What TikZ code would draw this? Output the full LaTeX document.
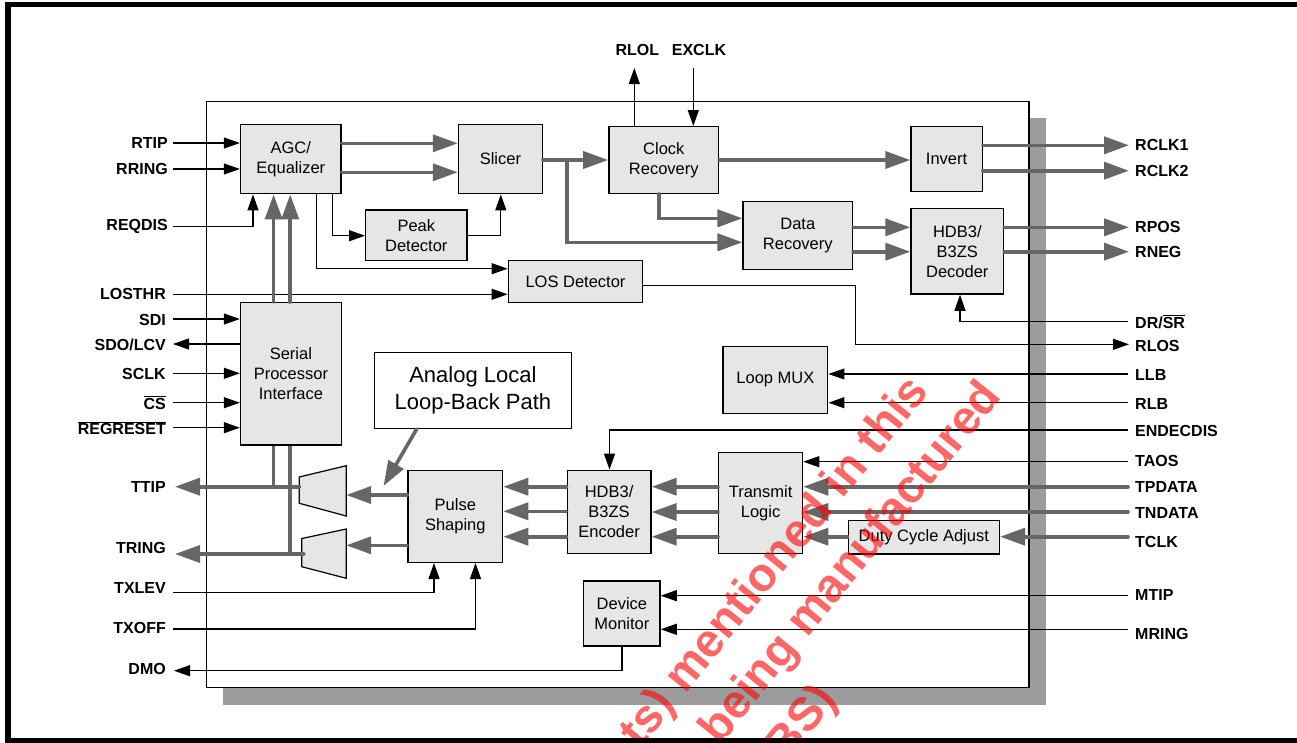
\documentclass[tikz,border=0pt]{standalone}
\usepackage{fontspec}
\setmainfont{Liberation Sans}
\usetikzlibrary{arrows.meta}
\definecolor{boxfill}{HTML}{E6E6E6}
\definecolor{busgray}{HTML}{666666}
\definecolor{shadowgray}{HTML}{9C9C9C}
\begin{document}
\begin{tikzpicture}[x=1pt,y=-1pt,
    blk/.style={draw, line width=1.4pt, fill=boxfill, align=center, inner sep=0pt, font=\fontsize{16.5}{20}\selectfont},
    pinl/.style={font=\bfseries\fontsize{16}{19}\selectfont, inner sep=0pt, anchor=east},
    pinr/.style={font=\bfseries\fontsize{16}{19}\selectfont, inner sep=0pt, anchor=west},
    sig/.style={line width=1.2pt, -{Triangle[length=16pt,width=11pt]}},
    bus/.style={busgray, line width=3.6pt, line cap=round, -{Triangle[length=25pt,width=17pt]}},
    wmark/.style={text=red, text opacity=0.6, rotate=51, anchor=base east, inner sep=0pt, font=\bfseries\fontsize{47}{55}\selectfont}]
                \useasboundingbox (0,0) rectangle (1297,742);
                % chip outline with its shadow
                \fill[shadowgray] (223,117.5) rectangle (1045.5,705);
                \draw[line width=1.2pt, fill=white] (206.5,101.3) rectangle (1029,687.7);
                \node[blk, minimum width=100.5pt, minimum height=69.4pt] (agc) at (290.8,159) {AGC/\\Equalizer};
                \node[blk, minimum width=83.8pt, minimum height=69.4pt] (slicer) at (500.4,159) {Slicer};
                \node[blk, minimum width=109.8pt, minimum height=66.6pt] (clkrec) at (663.8,160) {Clock\\Recovery};
                \node[blk, minimum width=71.2pt, minimum height=65pt] (invert) at (946.6,159.2) {Invert};
                \node[blk, minimum width=101.1pt, minimum height=50.7pt] (peak) at (416.3,235.4) {Peak\\Detector};
                \node[blk, minimum width=109.3pt, minimum height=67.6pt] (datrec) at (797.8,235.5) {Data\\Recovery};
                \node[blk, minimum width=92.6pt, minimum height=85.7pt] (decoder) at (957.3,251.2) {HDB3/\\B3ZS\\Decoder};
                \node[blk, minimum width=134.3pt, minimum height=42pt] (los) at (575.5,281.7) {LOS Detector};
                \node[blk, minimum width=100.7pt, minimum height=142.3pt] (spi) at (290.9,373.9) {Serial\\Processor\\Interface};
                \node[blk, fill=white, minimum width=196.9pt, minimum height=76pt, font=\fontsize{22}{27}\selectfont] (analog) at (472.9,390.3) {Analog Local\\Loop-Back Path};
                \node[blk, minimum width=104.7pt, minimum height=66.6pt] (loopmux) at (775.4,380) {Loop MUX};
                \node[blk, minimum width=94.5pt, minimum height=92pt] (pulse) at (455.3,516.3) {Pulse\\Shaping};
                \node[blk, minimum width=83.8pt, minimum height=83.5pt] (encoder) at (609.1,512) {HDB3/\\B3ZS\\Encoder};
                \node[blk, minimum width=83.9pt, minimum height=101pt] (txlogic) at (760.6,502.8) {Transmit\\Logic};
                \node[blk, minimum width=151.1pt, minimum height=33.7pt] (duty) at (923.8,537.2) {Duty Cycle Adjust};
                \node[blk, minimum width=76.3pt, minimum height=65pt] (devmon) at (621.9,613.5) {Device\\Monitor};
                % line drivers
                \draw[line width=1.2pt, fill=boxfill] (299.3,477) coordinate (muxa) -- (346.2,465.7) -- (346.2,516) coordinate (muxaout) -- (299.3,503.3) -- cycle;
                \draw[line width=1.2pt, fill=boxfill] (301.8,538.5) coordinate (muxb) -- (346.2,529) -- (346.2,578.3) coordinate (muxbout) -- (301.8,566.7) -- cycle;
                % pins, left side
                \node[pinl] (rtip) at (168,143) {RTIP};
                \node[pinl] (rring) at (168,169) {RRING};
                \node[pinl] (reqdis) at (168,226.7) {REQDIS};
                \node[pinl] (losthr) at (166,294.3) {LOSTHR};
                \node[pinl] (sdi) at (166,320) {SDI};
                \node[pinl] (sdo) at (166,345) {SDO/LCV};
                \node[pinl] (sclk) at (166,374) {SCLK};
                \node[pinl] (cs) at (166,402.7) {$\overline{\mbox{CS}}$};
                \node[pinl] (regreset) at (166,428) {$\overline{\mbox{REGRESET}}$};
                \node[pinl] (ttip) at (166,487) {TTIP};
                \node[pinl] (tring) at (166,548) {TRING};
                \node[pinl] (txlev) at (166,588) {TXLEV};
                \node[pinl] (txoff) at (166,627.5) {TXOFF};
                \node[pinl] (dmo) at (166,668.5) {DMO};
                % pins, right side
                \node[pinr] (rclka) at (1135,145.3) {RCLK1};
                \node[pinr] (rclkb) at (1135,170.7) {RCLK2};
                \node[pinr] (rpos) at (1135,227.3) {RPOS};
                \node[pinr] (rneg) at (1135,251.7) {RNEG};
                \node[pinr] (drsr) at (1135,321.7) {DR/$\overline{\mbox{SR}}$};
                \node[pinr] (rlos) at (1135,346) {RLOS};
                \node[pinr] (llb) at (1135,375) {LLB};
                \node[pinr] (rlb) at (1135,403.5) {RLB};
                \node[pinr] (endecdis) at (1135,430.5) {ENDECDIS};
                \node[pinr] (taos) at (1135,460.5) {TAOS};
                \node[pinr] (tpdata) at (1135,486.7) {TPDATA};
                \node[pinr] (tndata) at (1135,513) {TNDATA};
                \node[pinr] (tclk) at (1135,542) {TCLK};
                \node[pinr] (mtip) at (1135,594.5) {MTIP};
                \node[pinr] (mring) at (1135,634) {MRING};
                % pins, top
                \node[font=\bfseries\fontsize{16}{19}\selectfont, inner sep=0pt] (rlol) at (637.3,50) {RLOL};
                \node[font=\bfseries\fontsize{16}{19}\selectfont, inner sep=0pt] (exclk) at (699,50) {EXCLK};
                % receive path
                \draw[sig] (173,143) -- (agc.west |- 0,143);
                \draw[sig] (173,169) -- (agc.west |- 0,169);
                \draw[sig] (173,226.7) -| (agc.south -| 253,0);
                \draw[bus] (agc.east |- 0,143.3) -- (slicer.west |- 0,143.3);
                \draw[bus] (agc.east |- 0,172.3) -- (slicer.west |- 0,172.3);
                \draw[sig] (agc.south -| 332.5,0) |- (peak.west |- 0,235.7);
                \draw[sig] (peak.east |- 0,235.7) -| (slicer.south -| 500.8,0);
                \draw[sig] (agc.south -| 316.3,0) |- (los.west |- 0,268.7);
                \draw[sig] (173,294.3) -- (los.west |- 0,294.3);
                \draw[bus] (slicer.east |- 0,160) -- (clkrec.west |- 0,160);
                \draw[bus] (566.7,160) |- (datrec.west |- 0,242.3);
                \draw[bus] (clkrec.south -| 659,0) |- (datrec.west |- 0,218.3);
                \draw[bus] (clkrec.east |- 0,160) -- (invert.west |- 0,160);
                \draw[bus] (datrec.east |- 0,227.3) -- (decoder.west |- 0,227.3);
                \draw[bus] (datrec.east |- 0,251.7) -- (decoder.west |- 0,251.7);
                \draw[bus] (invert.east |- 0,145.3) -- (1129,145.3);
                \draw[bus] (invert.east |- 0,170.7) -- (1129,170.7);
                \draw[bus] (decoder.east |- 0,227.3) -- (1129,227.3);
                \draw[bus] (decoder.east |- 0,251.7) -- (1129,251.7);
                \draw[sig] (clkrec.north -| 634.3,0) -- (634.3,68);
                \draw[sig] (693.3,68) -- (clkrec.north -| 693.3,0);
                \draw[sig] (1128,321.7) -| (decoder.south -| 960,0);
                \draw[sig] (los.east |- 0,285.7) -| (855.6,344.3) -- (1129,344.3);
                % processor interface
                \draw[bus] (spi.north -| 273.6,0) -- (agc.south -| 273.6,0);
                \draw[bus] (spi.north -| 290.2,0) -- (agc.south -| 290.2,0);
                \draw[sig] (173,319) -- (spi.west |- 0,319);
                \draw[sig] (spi.west |- 0,344) -- (173,344);
                \draw[sig] (173,373.3) -- (spi.west |- 0,373.3);
                \draw[sig] (173,402.7) -- (spi.west |- 0,402.7);
                \draw[sig] (173,427.7) -- (spi.west |- 0,427.7);
                \draw[busgray, line width=3.6pt] (spi.south -| 273.6,0) -- (273.6,486.7);
                \draw[busgray, line width=3.6pt] (spi.south -| 290.2,0) -- (290.2,554);
                % transmit path
                \draw[sig] (1128,374) -- (loopmux.east |- 0,374);
                \draw[sig] (1128,402.7) -- (loopmux.east |- 0,402.7);
                \draw[sig] (1128,430) -| (encoder.north -| 609.5,0);
                \draw[sig] (1128,461.7) -- (txlogic.east |- 0,461.7);
                \draw[bus] (1128,486.7) -- (txlogic.east |- 0,486.7);
                \draw[bus] (1128,512) -- (txlogic.east |- 0,512);
                \draw[bus] (1128,536.7) -- (duty.east |- 0,536.7);
                \draw[bus] (duty.west |- 0,536.7) -- (txlogic.east |- 0,536.7);
                \draw[bus] (txlogic.west |- 0,486.7) -- (encoder.east |- 0,486.7);
                \draw[bus] (txlogic.west |- 0,512) -- (encoder.east |- 0,512);
                \draw[bus] (txlogic.west |- 0,536.7) -- (encoder.east |- 0,536.7);
                \draw[bus] (encoder.west |- 0,486.7) -- (pulse.east |- 0,486.7);
                \draw[bus] (encoder.west |- 0,511.3) -- (pulse.east |- 0,511.3);
                \draw[bus] (encoder.west |- 0,536.7) -- (pulse.east |- 0,536.7);
                \draw[bus] (pulse.west |- 0,495) -- (muxaout |- 0,495);
                \draw[bus] (pulse.west |- 0,545.3) -- (muxbout |- 0,545.3);
                \draw[bus] (muxa |- 0,486.7) -- (175,486.7);
                \draw[bus] (303.7,554) -- (175,554);
                \draw[bus] (analog.south -| 416.7,0) -- (383.5,486);
                \draw[sig] (173,592.3) -| (pulse.south -| 434,0);
                \draw[sig] (173,629) -| (pulse.south -| 475.5,0);
                % device monitor
                \draw[sig] (1128,595.7) -- (devmon.east |- 0,595.7);
                \draw[sig] (1128,629.3) -- (devmon.east |- 0,629.3);
                \draw[sig] (devmon.south) |- (174,670.7);
                % page frame
                \draw[line width=5.5pt] (1300,4.3) -- (8,4.3) -- (8,740.5) -- (1300,740.5);
                \begin{scope}
                \clip (0,0) rectangle (1297,737.5);
                \node[wmark] (wma) at (930,392) {ts) mentioned in this};
                \node[wmark] (wmb) at (1003,397) {being manufactured};
                \node[wmark] (wmc) at (838,700) {BS)};
                \end{scope}
            \end{tikzpicture}
\end{document}
